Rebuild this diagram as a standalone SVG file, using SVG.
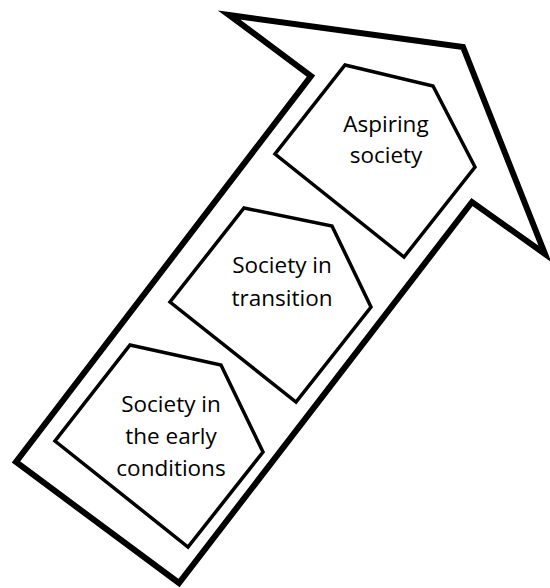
<svg xmlns="http://www.w3.org/2000/svg" width="550" height="588" viewBox="0 0 550 588">
  <style>
    .arrow { fill: #ffffff; stroke: #000000; stroke-width: 6; stroke-linejoin: miter; stroke-miterlimit: 10; }
    .node { fill: #ffffff; stroke: #000000; stroke-width: 3.5; stroke-linejoin: miter; stroke-miterlimit: 10; }
    .label { font-family: "Open Sans", "Noto Sans", "Liberation Sans", sans-serif; font-size: 22.5px; fill: #000000; text-anchor: middle; }
  </style>
  <rect width="550" height="588" fill="#ffffff"/>
  <g id="connectors">
    <polygon id="big-arrow" class="arrow" points="229,15 463,47 545,254 472,202 179,583 16,462 311,76"/>
  </g>
  <g id="node-aspiring">
    <polygon class="node" points="345,65 433,86 475,167 404,257 275,154"/>
    <text class="label" x="386" y="131.5">Aspiring</text>
    <text class="label" x="386" y="163">society</text>
  </g>
  <g id="node-transition">
    <polygon class="node" points="244,208 332,226 371,307 296,402 170,302"/>
    <text class="label" x="282" y="273">Society in</text>
    <text class="label" x="282" y="305.5">transition</text>
  </g>
  <g id="node-early">
    <polygon class="node" points="130,345 221,365 263,452 188,547 55,441"/>
    <text class="label" x="171" y="411.5">Society in</text>
    <text class="label" x="171" y="443.5">the early</text>
    <text class="label" x="171" y="475.5">conditions</text>
  </g>
</svg>
